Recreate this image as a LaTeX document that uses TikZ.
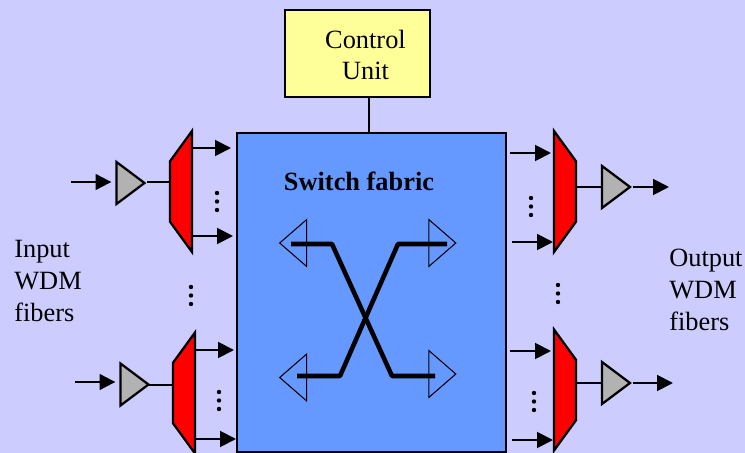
\documentclass[tikz,border=0pt]{standalone}
\usepackage{fontspec}
\setmainfont{Liberation Serif}
\usetikzlibrary{arrows.meta,shapes.geometric}
\def\px{0.02cm}
\tikzset{
    box/.style={draw=black, line width=1.2pt, inner sep=0pt},
    amp/.style={draw=black, line width=1.3pt, fill=ampColour, shape=isosceles triangle, isosceles triangle stretches, inner sep=0pt, minimum width=42*\px, minimum height=28*\px},
    demux/.style={draw=black, line width=1.3pt, fill=red, shape=trapezium, trapezium stretches body, trapezium left angle=36, trapezium right angle=36, shape border rotate=90, inner sep=11*\px, minimum width=121*\px, minimum height=22*\px},
    mux/.style={demux, shape border rotate=270},
    port/.style={draw=black, line width=0.6pt, shape=isosceles triangle, isosceles triangle stretches, inner sep=0pt, minimum width=47*\px, minimum height=27*\px},
    link/.style={line width=1.1pt},
    arrowLink/.style={link, -{Triangle[length=9pt, width=9pt]}},
    crossLink/.style={line width=2.6pt, line join=round},
    label/.style={font=\fontsize{15}{18.1}\selectfont, inner sep=0pt, align=left}
}
\begin{document}
\begin{tikzpicture}[x=\px, y=-\px]
    \definecolor{backColour}{HTML}{CCCCFF}
    \definecolor{fabricColour}{HTML}{6699FF}
    \definecolor{controlColour}{HTML}{FFFF99}
    \definecolor{ampColour}{HTML}{B2B2B2}

    % Background
    \useasboundingbox (0,0) rectangle (745,453);
    \clip (0,0) rectangle (745,453);
    \fill[backColour] (0,0) rectangle (745,453);

    % Control unit and fabric
    \node[box, fill=controlColour, minimum width=145*\px, minimum height=87*\px] (control) at (357.5,53.5) {};
    \node[box, fill=fabricColour, minimum width=269*\px, minimum height=319*\px] (fabric) at (371.5,292.5) {};
    \draw[link] (control.south -| 369,0) -- (fabric.north -| 369,0);
    \node[label, align=center, font=\fontsize{15}{17.6}\selectfont] (controlText) at (365.5,55) {Control\\Unit};
    \node[label, font=\fontsize{15}{17.6}\selectfont\bfseries] (fabricText) at (359,181) {Switch fabric};

    % Ports of the fabric
    \node[port, shape border rotate=180] (portA) at (296,243) {};
    \node[port] (portB) at (439.5,243) {};
    \node[port, shape border rotate=180] (portC) at (296,377.5) {};
    \node[port] (portD) at (439.5,374) {};

    % Crossing paths
    \coordinate (crossA) at (291,244);
    \coordinate (crossB) at (447,244);
    \coordinate (crossC) at (297,376);
    \coordinate (crossD) at (435,376);
    \draw[crossLink] (crossA) -- (332,244) -- (392,376) -- (crossD);
    \draw[crossLink] (crossB) -- (398,244) -- (340,376) -- (crossC);

    % Left side
    \node[amp] (ampA) at (127,183) {};
    \node[amp] (ampB) at (131,384.5) {};
    \node[demux] (demuxA) at (181,191.5) {};
    \node[demux] (demuxB) at (184,393) {};
    \coordinate (inA) at (71,182);
    \coordinate (inB) at (75,382);
    \coordinate (jointB) at (148,385);
    \draw[arrowLink, shorten >=4*\px] (inA) -- (inA -| ampA.west);
    \draw[arrowLink, shorten >=4*\px] (inB) -- (inB -| ampB.west);
    \draw[link] (inA -| ampA.east) -- (inA -| demuxA.west);
    \draw[link] (jointB) -- (jointB -| demuxB.west);
    \coordinate (outA) at (231,148);
    \coordinate (outB) at (233,236);
    \coordinate (outC) at (234,350);
    \coordinate (outD) at (236,439);
    \draw[arrowLink] (outA -| demuxA.east) -- (outA);
    \draw[arrowLink] (outB -| demuxA.east) -- (outB);
    \draw[arrowLink] (outC -| demuxB.east) -- (outC);
    \draw[arrowLink] (outD -| demuxB.east) -- (outD);

    % Right side
    \node[mux] (muxA) at (565,191.5) {};
    \node[mux] (muxB) at (565,390) {};
    \node[amp] (ampC) at (612.5,187) {};
    \node[amp] (ampD) at (612.5,383) {};
    \coordinate (inC) at (510,153);
    \coordinate (inD) at (512,242);
    \coordinate (inE) at (510,351);
    \coordinate (inF) at (512,440);
    \coordinate (stopA) at (551,153);
    \coordinate (stopB) at (553,242);
    \coordinate (stopC) at (551,351);
    \coordinate (stopD) at (553,440);
    \draw[arrowLink] (inC) -- (stopA);
    \draw[arrowLink] (inD) -- (stopB);
    \draw[arrowLink] (inE) -- (stopC);
    \draw[arrowLink] (inF) -- (stopD);
    \draw[link] (muxA.east |- ampC.east) -- (ampC.west |- ampC.east);
    \draw[link] (muxB.east |- ampD.east) -- (ampD.west |- ampD.east);
    \coordinate (endC) at (669,187);
    \coordinate (endD) at (673,383);
    \draw[arrowLink] (ampC.east) -- (endC);
    \draw[arrowLink] (ampD.east) -- (endD);

    % Dots
    \foreach \x/\y in {217/193, 219/392, 191/287, 531/198, 534/393, 558/285}
        \foreach \d in {0,8.5,17}
            \fill[black] (\x,\y+\d) circle (2.2);

    % Labels
    \node[label, anchor=west] (inputText) at (14,281) {Input\\WDM\\fibers};
    \node[label, anchor=west] (outputText) at (669,290) {Output\\WDM\\fibers};
\end{tikzpicture}
\end{document}
